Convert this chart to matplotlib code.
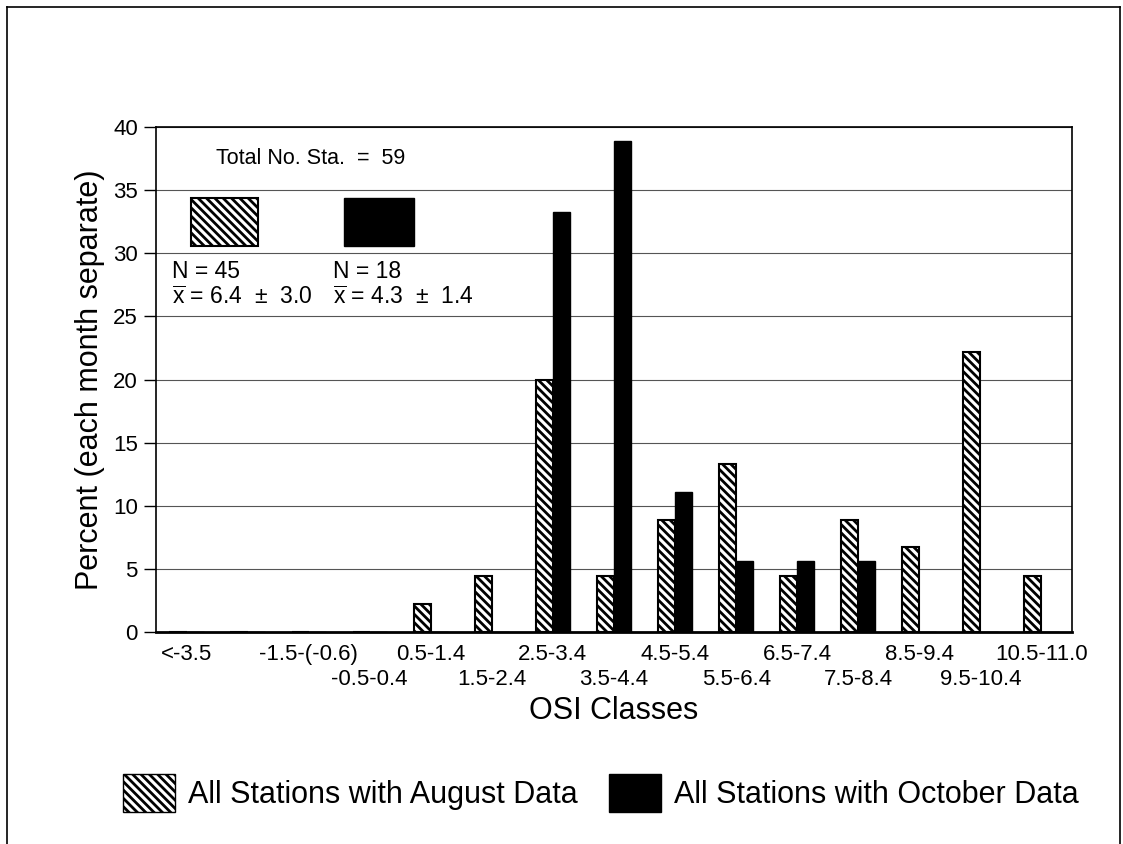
import matplotlib
matplotlib.use("Agg")
import matplotlib.pyplot as plt
from matplotlib.patches import Patch, Rectangle
from matplotlib.lines import Line2D
import numpy as np

plt.rcParams['font.family'] = ['Liberation Sans', 'DejaVu Sans']
plt.rcParams['mathtext.fontset'] = 'custom'
plt.rcParams['mathtext.rm'] = 'Liberation Sans'
plt.rcParams['hatch.linewidth'] = 2.0

# OSI classes (the second class carries no label in the original)
classes = ['<-3.5', '', '-1.5-(-0.6)', '-0.5-0.4', '0.5-1.4', '1.5-2.4',
           '2.5-3.4', '3.5-4.4', '4.5-5.4', '5.5-6.4', '6.5-7.4',
           '7.5-8.4', '8.5-9.4', '9.5-10.4', '10.5-11.0']

# percent of stations per class, each month separate
august = [0, 0, 0, 0, 2.2, 4.4, 20.0, 4.4, 8.9, 13.3, 4.4, 8.9, 6.7, 22.2, 4.4]
october = [0, 0, 0, 0, 0, 0, 33.3, 38.9, 11.1, 5.6, 5.6, 5.6, 0, 0, 0]

yticks = [0, 5, 10, 15, 20, 25, 30, 35, 40]

total_text = 'Total No. Sta.  =  59'
aug_stats = ('N = 45', r'$\overline{\rm x}$ = 6.4  ±  3.0')
oct_stats = ('N = 18', r'$\overline{\rm x}$ = 4.3  ±  1.4')

fig = plt.figure(figsize=(11.23, 8.44), dpi=100)
ax = fig.add_axes([0.1389, 0.2512, 0.8157, 0.5983])

x = np.arange(len(classes))
w = 0.28
ax.bar(x - w / 2, august, w, color='white', edgecolor='black',
       hatch='\\\\\\\\', linewidth=1.5, zorder=3)
ax.bar(x + w / 2, october, w, color='black', edgecolor='black',
       linewidth=1.0, zorder=3)

ax.set_xlim(-0.5, len(classes) - 0.5)
ax.set_ylim(0, 40)
ax.set_yticks(yticks)
ax.tick_params(axis='y', labelsize=16, length=9, width=1, direction='out', pad=4)
ax.yaxis.grid(True, color='#555555', linewidth=0.8, zorder=0)
ax.set_axisbelow(True)

# staggered category labels: even classes on the upper row, odd below
ax.set_xticks(x[::2])
ax.set_xticklabels(classes[::2], fontsize=16)
ax.set_xticks(x[1::2], minor=True)
ax.set_xticklabels(classes[1::2], minor=True, fontsize=16)
ax.tick_params(axis='x', which='major', length=0, pad=9)
ax.tick_params(axis='x', which='minor', length=0, pad=27)

for s in ax.spines.values():
    s.set_linewidth(1.2)
ax.spines['bottom'].set_linewidth(2.0)

ax.set_ylabel('Percent (each month separate)', fontsize=22, labelpad=6)
ax.set_xlabel('OSI Classes', fontsize=22, labelpad=4)

# inset key
ax.text(0.0655, 0.9386, total_text, transform=ax.transAxes, fontsize=15.5,
        va='center', ha='left')
ax.add_patch(Rectangle((0.0382, 0.764), 0.0732, 0.095, transform=ax.transAxes,
                       facecolor='white', edgecolor='black', hatch='\\\\\\\\',
                       linewidth=1.5, zorder=4))
ax.add_patch(Rectangle((0.205, 0.764), 0.0767, 0.095, transform=ax.transAxes,
                       facecolor='black', edgecolor='black', zorder=4))
for x0, (nline, xline) in [(0.0175, aug_stats), (0.193, oct_stats)]:
    ax.text(x0, 0.713, nline, transform=ax.transAxes, fontsize=16.5,
            va='center', ha='left')
    ax.text(x0, 0.663, xline, transform=ax.transAxes, fontsize=16.5,
            va='center', ha='left')

# bottom legend
handles = [Patch(facecolor='white', edgecolor='black', hatch='\\\\\\\\',
                 label='All Stations with August Data'),
           Patch(facecolor='black', edgecolor='black',
                 label='All Stations with October Data')]
fig.legend(handles=handles, loc='center', bbox_to_anchor=(0.535, 0.06),
           ncol=2, frameon=False, fontsize=22, handlelength=1.7,
           handleheight=1.55, handletextpad=0.45, columnspacing=1.0)

# page frame
fig.add_artist(Line2D([0.006, 0.006], [0.0, 0.992], color='black', lw=1.2))
fig.add_artist(Line2D([0.006, 0.997], [0.992, 0.992], color='black', lw=1.2))
fig.add_artist(Line2D([0.997, 0.997], [0.0, 0.992], color='black', lw=1.2))

fig.savefig('out.png', dpi=100)
